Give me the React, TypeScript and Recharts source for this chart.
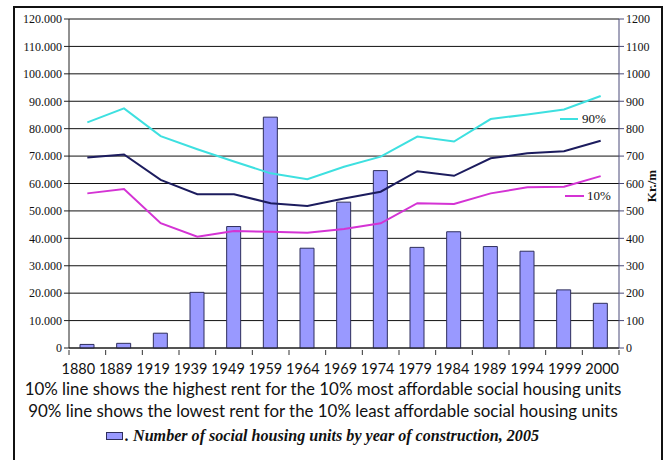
import React from 'react';
import { ComposedChart, Bar, Line, XAxis, YAxis, CartesianGrid } from 'recharts';

const years = ['1880', '1889', '1919', '1939', '1949', '1959', '1964', '1969', '1974', '1979', '1984', '1989', '1994', '1999', '2000'];
const units = [1300, 1700, 5400, 20300, 44300, 84200, 36400, 53200, 64700, 36700, 42400, 37000, 35300, 21200, 16300];
const rent90 = [823, 874, 773, 725, 680, 637, 616, 661, 698, 771, 753, 835, 852, 870, 919];
const rentMid = [695, 706, 613, 561, 561, 528, 518, 545, 570, 645, 628, 692, 710, 718, 756];
const rent10 = [564, 580, 455, 406, 427, 424, 420, 434, 455, 528, 525, 564, 586, 588, 627];

const leftTicks = [0, 10000, 20000, 30000, 40000, 50000, 60000, 70000, 80000, 90000, 100000, 110000, 120000];
const rightTicks = [0, 100, 200, 300, 400, 500, 600, 700, 800, 900, 1000, 1100, 1200];

const captions = [
  '10% line shows the highest rent for the 10% most affordable social housing units',
  '90% line shows the lowest rent for the 10% least affordable social housing units',
];
const legendText = '. Number of social housing units by year of construction, 2005';

const data = years.map((year, i) => ({
  year,
  units: units[i],
  p90: rent90[i],
  mid: rentMid[i],
  p10: rent10[i],
}));

const fmtThousands = (v: number) => (v === 0 ? '0' : `${Math.floor(v / 1000)}.${String(v % 1000).padStart(3, '0')}`);

const serif = '"Liberation Serif", "DejaVu Serif", serif';
const sans = 'Lato, "Open Sans", sans-serif';

const band = 550 / years.length;

const YearTick = (props: any) => {
  const { x, y, payload, index } = props;
  const axisY = y - 6;
  const dx = -9 + index * 0.75;
  return (
    <g>
      <line x1={x - band / 2} x2={x - band / 2} y1={axisY} y2={axisY + 5} stroke="#333" />
      {index === years.length - 1 && (
        <line x1={x + band / 2} x2={x + band / 2} y1={axisY} y2={axisY + 5} stroke="#333" />
      )}
      <text x={x + dx} y={axisY + 24} textAnchor="middle" fontFamily={sans} fontSize={14.5} fill="#111">
        {payload.value}
      </text>
    </g>
  );
};

export default function App() {
  return (
    <div style={{ position: 'absolute', left: 0, top: 0, width: 668, height: 460, background: '#fff', overflow: 'hidden' }}>
      <div
        style={{
          position: 'absolute',
          left: 13,
          top: 6,
          width: 646,
          height: 470,
          borderLeft: '2px solid #111',
          borderTop: '2px solid #111',
          borderRight: '2px solid #111',
        }}
      />
      <ComposedChart width={668} height={460} data={data} margin={{ top: 19, right: 9, bottom: 82, left: 14 }}>
        <CartesianGrid vertical={false} stroke="#111" strokeWidth={1} yAxisId="units" />
        <XAxis
          dataKey="year"
          height={30}
          tickLine={false}
          axisLine={{ stroke: '#222' }}
          tick={<YearTick />}
          interval={0}
        />
        <YAxis
          yAxisId="units"
          width={55}
          domain={[0, 120000]}
          ticks={leftTicks}
          tickFormatter={fmtThousands}
          axisLine={{ stroke: '#222' }}
          tickLine={{ stroke: '#222' }}
          tickSize={5}
          tick={{ fontFamily: serif, fontSize: 12, fill: '#111' }}
          interval={0}
        />
        <YAxis
          yAxisId="rent"
          orientation="right"
          width={40}
          domain={[0, 1200]}
          ticks={rightTicks}
          axisLine={{ stroke: '#4a4a78' }}
          tickLine={{ stroke: '#4a4a78' }}
          tickSize={5}
          tick={{ fontFamily: serif, fontSize: 12, fill: '#111' }}
          interval={0}
        />
        <Bar yAxisId="units" dataKey="units" barSize={14} fill="#9999ff" stroke="#2e2e5c" strokeWidth={1} isAnimationActive={false} />
        <Line yAxisId="rent" dataKey="p90" type="linear" stroke="#3ee0e0" strokeWidth={2} dot={false} isAnimationActive={false} />
        <Line yAxisId="rent" dataKey="mid" type="linear" stroke="#1c1c5e" strokeWidth={2} dot={false} isAnimationActive={false} />
        <Line yAxisId="rent" dataKey="p10" type="linear" stroke="#d433d4" strokeWidth={2} dot={false} isAnimationActive={false} />
      </ComposedChart>
      <div style={{ position: 'absolute', left: 560, top: 111, display: 'flex', alignItems: 'center', fontFamily: serif, fontSize: 13, color: '#111' }}>
        <span style={{ display: 'inline-block', width: 18, height: 2, background: '#3ee0e0', marginRight: 4 }} />
        90%
      </div>
      <div style={{ position: 'absolute', left: 565, top: 188, display: 'flex', alignItems: 'center', fontFamily: serif, fontSize: 13, color: '#111' }}>
        <span style={{ display: 'inline-block', width: 19, height: 2, background: '#d433d4', marginRight: 3 }} />
        10%
      </div>
      <div
        style={{
          position: 'absolute',
          left: 652,
          top: 186,
          transform: 'translate(-50%, -50%) rotate(-90deg)',
          fontFamily: serif,
          fontWeight: 'bold',
          fontSize: 13,
          color: '#111',
          whiteSpace: 'nowrap',
        }}
      >
        Kr./m
      </div>
      {captions.map((c, i) => (
        <div
          key={i}
          style={{
            position: 'absolute',
            left: 0,
            width: 646,
            top: 378 + i * 22,
            textAlign: 'center',
            fontFamily: sans,
            fontSize: 16.9,
            color: '#111',
            whiteSpace: 'nowrap',
          }}
        >
          {c}
        </div>
      ))}
      <div style={{ position: 'absolute', left: 106, top: 427, display: 'flex', alignItems: 'center', fontFamily: serif, fontSize: 16.1, fontStyle: 'italic', fontWeight: 'bold', color: '#111', whiteSpace: 'nowrap' }}>
        <span style={{ display: 'inline-block', width: 15, height: 6, background: '#9999ff', border: '1px solid #2e2e5c', marginRight: 2 }} />
        {legendText}
      </div>
    </div>
  );
}
